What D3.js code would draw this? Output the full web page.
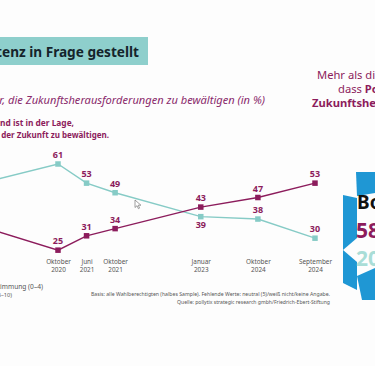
<!DOCTYPE html>
<html><head><meta charset="utf-8">
<script src="https://cdn.jsdelivr.net/npm/d3@7/dist/d3.min.js"></script>
<style>
html,body{margin:0;padding:0;background:#fdfdfd;overflow:hidden}
svg{display:block}
</style></head>
<body><svg id="c" width="375" height="366"></svg>
<script>
// ---- data ----
const waveLabels = ["", "Oktober 2020", "Juni 2021", "Oktober 2021", "Januar 2023", "Oktober 2024", "September 2024"];
const waveNo = [-3, 0, 1, 2, 5, 7, 9];
const inDerLage = [36, 25, 31, 34, 43, 47, 53];      // purple
const nichtInDerLage = [52, 61, 53, 49, 39, 38, 30]; // teal

const purple = "#8c1c5c", teal = "#86cbc6", blue = "#1f97d4";
const svg = d3.select("#c");
const font = "'Noto Sans', 'Open Sans', sans-serif";

// place an end-anchored text so that its visible tail spans exactly targetWidth ending at xEnd
function fitText(sel, full, tail, xEnd, yb, targetWidth, attrs) {
  const t = sel.append("text").attr("x", xEnd).attr("y", yb).attr("text-anchor", "end");
  Object.entries(attrs).forEach(([k, v]) => t.attr(k, v));
  t.text(tail);
  const w = t.node().getComputedTextLength();
  const fs = +attrs["font-size"] * targetWidth / w;
  t.attr("font-size", fs).text(full);
  return t;
}

const x = d3.scaleLinear().domain([0, 9]).range([58, 315]);
const y = d3.scaleLinear().domain([0, 61]).range([310, 164]);

// title banner
svg.append("rect").attr("x", 0).attr("y", 37).attr("width", 148).attr("height", 28).attr("fill", "#8ecfcc");
fitText(svg, "Kompetenz in Frage gestellt", "enz in Frage gestellt", 139, 57, 137,
  {"font-family": font, "font-weight": 700, "font-size": 15, "fill": "#15242b"});

// subtitle
fitText(svg, "Einschätzung der Wähler, die Zukunftsherausforderungen zu bewältigen (in %)",
  "r, die Zukunftsherausforderungen zu bewältigen (in %)", 265, 104, 266,
  {"font-family": font, "font-style": "italic", "font-size": 11, "fill": "#8a2a6c"});

fitText(svg, "Deutschland ist in der Lage,", "nd ist in der Lage,", 74, 126, 74,
  {"font-family": font, "font-weight": 700, "font-size": 9, "fill": purple});
fitText(svg, "die Herausforderungen der Zukunft zu bewältigen.", "der Zukunft zu bewältigen.", 109, 138, 108,
  {"font-family": font, "font-weight": 700, "font-size": 9, "fill": purple});

// top-right text
const tr = svg.append("g").attr("font-family", font).attr("font-size", 11.2).attr("fill", purple);
tr.append("text").attr("x", 317).attr("y", 79).text("Mehr als die Hälfte");
const t2 = tr.append("text").attr("x", 338).attr("y", 93);
t2.append("tspan").text("dass ");
t2.append("tspan").attr("font-weight", 700).text("Politik");
tr.append("text").attr("x", 312).attr("y", 107).attr("font-weight", 700).text("Zukunftsherausforderungen");

// axis
const ax = svg.append("g").attr("transform", "translate(0,258)")
  .call(d3.axisBottom(x).tickValues(waveNo.slice(1)).tickSize(0)
    .tickFormat((d) => waveLabels[waveNo.indexOf(d)]));
ax.select(".domain").remove();
ax.selectAll("text").each(function(d) {
  const t = d3.select(this);
  const parts = t.text().split(" ");
  t.text(null).attr("font-family", font).attr("font-size", 6.4).attr("fill", "#555").attr("y", 0);
  parts.forEach((p, i) => t.append("tspan").attr("x", 0).attr("dy", i === 0 ? 6 : 8).text(p));
});

// lines
const pts = (vals) => vals.map((v, i) => [x(waveNo[i]), y(v)]);
const line = d3.line();
svg.append("path").attr("d", line(pts(nichtInDerLage))).attr("fill", "none").attr("stroke", teal).attr("stroke-width", 1.4);
svg.append("path").attr("d", line(pts(inDerLage))).attr("fill", "none").attr("stroke", purple).attr("stroke-width", 1.4);

const ms = 5.5;
[[nichtInDerLage, teal], [inDerLage, purple]].forEach(([vals, col]) => {
  svg.append("g").selectAll("rect").data(vals.map((v, i) => ({v, i})).filter(d => d.i > 0)).join("rect")
    .attr("x", d => x(waveNo[d.i]) - ms / 2).attr("y", d => y(d.v) - ms / 2)
    .attr("width", ms).attr("height", ms).attr("fill", col);
});

// value labels
const lab = svg.append("g").attr("font-family", font).attr("font-weight", 700).attr("font-size", 9)
  .attr("fill", purple).attr("text-anchor", "middle");
inDerLage.forEach((v, i) => { if (i > 0) lab.append("text").attr("x", x(waveNo[i])).attr("y", y(v) - 6).text(v); });
nichtInDerLage.forEach((v, i) => {
  if (i === 0) return;
  const below = v < inDerLage[i] && inDerLage[i] - v < 6;
  lab.append("text").attr("x", x(waveNo[i])).attr("y", below ? y(v) + 11 : y(v) - 6).text(v);
});

// cursor
svg.append("path").attr("d", "M135,200 l0,7.5 l2,-1.8 l1.4,3 l1.2,-0.6 l-1.4,-2.9 l2.7,0 z")
  .attr("fill", "#fff").attr("stroke", "#777").attr("stroke-width", 0.7);

// bottom notes
const notes = svg.append("g");
fitText(notes, "Ablehnung/Zustimmung (0–4)", "immung (0–4)", 43, 289, 43,
  {"font-family": font, "font-size": 6.2, "fill": "#555"});
fitText(notes, "(6–10)", "–10)", 12, 297, 11,
  {"font-family": font, "font-size": 6.2, "fill": "#555"});
notes.append("text").attr("x", 91).attr("y", 296).attr("font-family", font).attr("fill", "#555")
  .attr("font-size", 5.3).attr("textLength", 239).attr("lengthAdjust", "spacingAndGlyphs")
  .text("Basis: alle Wahlberechtigten (halbes Sample). Fehlende Werte: neutral (5)/weiß nicht/keine Angabe.");
notes.append("text").attr("x", 177).attr("y", 304).attr("font-family", font).attr("fill", "#555")
  .attr("font-size", 5.3).attr("textLength", 153).attr("lengthAdjust", "spacingAndGlyphs")
  .text("Quelle: pollytix strategic research gmbh/Friedrich-Ebert-Stiftung");

// right graphic
const g = svg.append("g");
[[[356,172],[375,172],[375,193],[357,196]],
 [[343,195],[357,198],[357,290],[343,283]],
 [[357,276],[375,268],[375,300],[362,300]]].forEach(p =>
  g.append("polygon").attr("points", p.join(" ")).attr("fill", blue));
g.append("polygon").attr("points", [[343,250],[357,238],[357,262]].join(" ")).attr("fill", "#fdfdfd");
g.append("text").attr("x", 357).attr("y", 209).attr("font-family", font).attr("font-weight", 700).attr("font-size", 19).attr("fill", "#111").text("Bo");
g.append("text").attr("x", 356).attr("y", 238).attr("font-family", font).attr("font-weight", 700).attr("font-size", 21).attr("fill", purple).text("58");
g.append("text").attr("x", 356).attr("y", 266).attr("font-family", font).attr("font-weight", 700).attr("font-size", 21).attr("fill", "#a9ddd7").text("20");
</script></body></html>
